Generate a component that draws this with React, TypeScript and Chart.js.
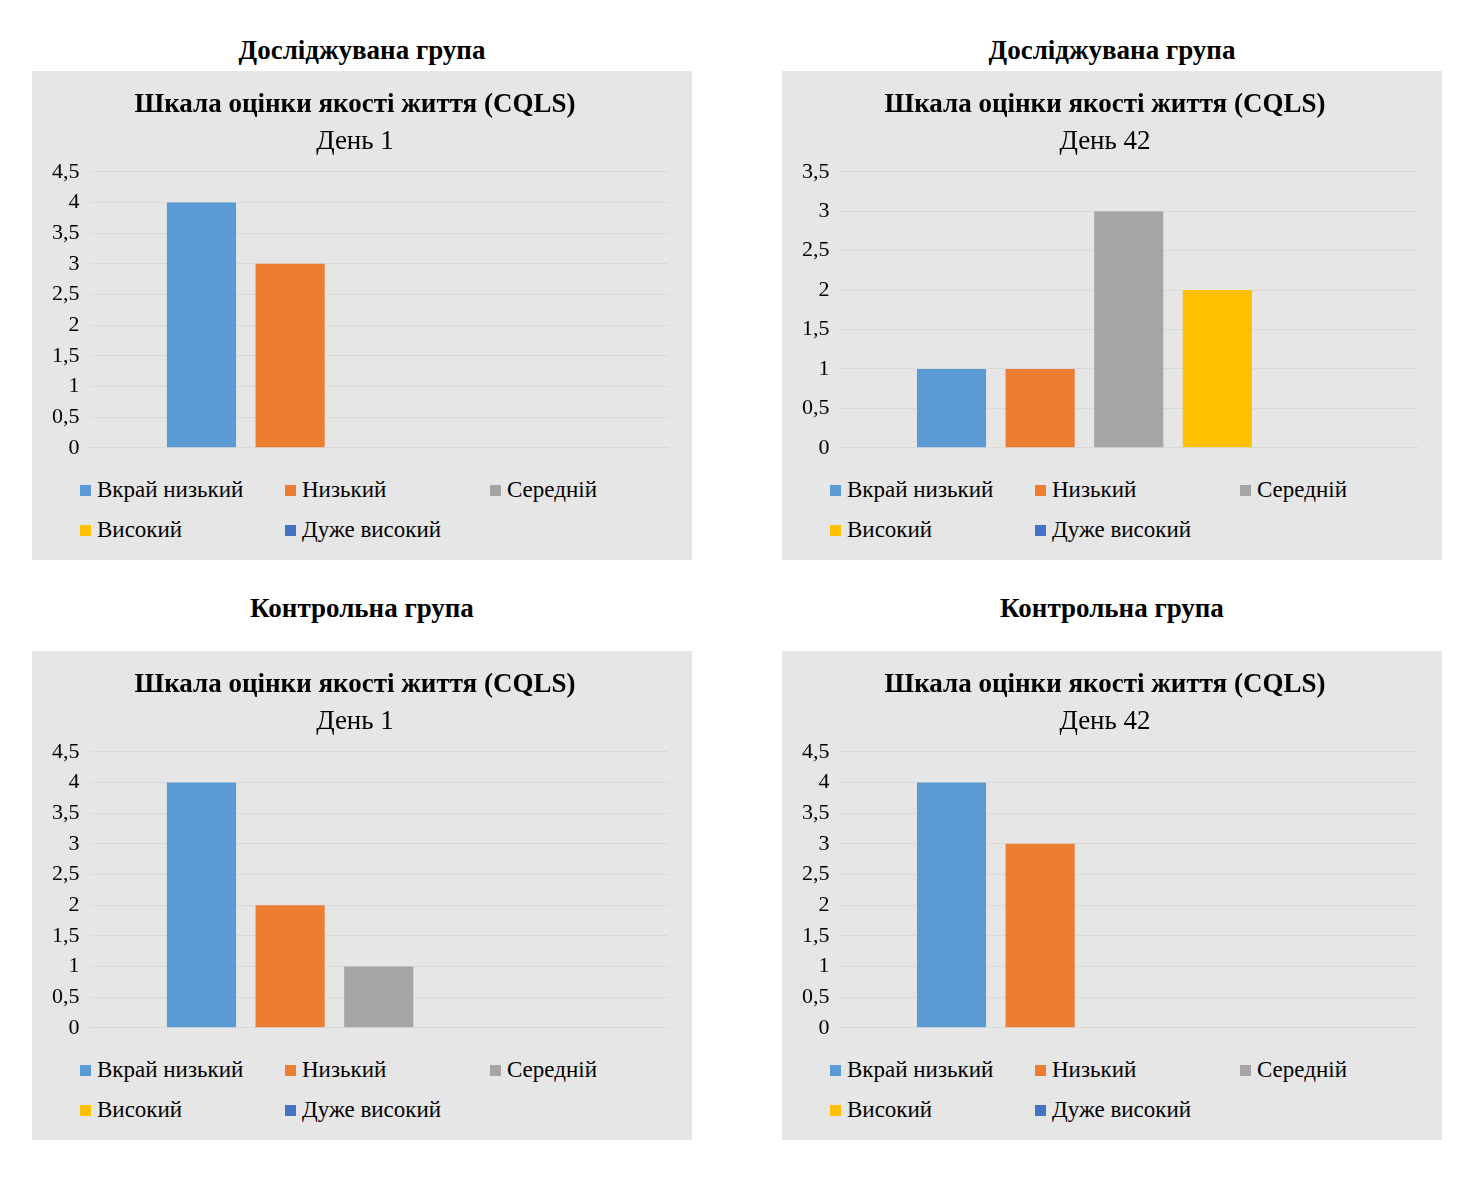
import React, { useEffect, useRef } from "react";
import { Chart, registerables } from "chart.js";
Chart.register(...registerables);

const seriesNames = ["Вкрай низький", "Низький", "Середній", "Високий", "Дуже високий"];
const seriesColors = ["#5b9bd5", "#ed7d31", "#a5a5a5", "#ffc000", "#4472c4"];
const studyDay1 = [4, 3, 0, 0, 0];
const studyDay42 = [1, 1, 3, 2, 0];
const controlDay1 = [4, 2, 1, 0, 0];
const controlDay42 = [4, 3, 0, 0, 0];
const FONT = "'Liberation Serif', 'Times New Roman', serif";

function Panel({ x, y, day, values, max, group, groupY }: any) {
  const ref = useRef<HTMLCanvasElement>(null);
  useEffect(() => {
    const c = new Chart(ref.current!, {
      type: "bar",
      data: {
        labels: [""],
        datasets: seriesNames.map((n, i) => ({
          label: n,
          data: [values[i]],
          backgroundColor: seriesColors[i],
          categoryPercentage: 0.766,
          barPercentage: 0.78,
        })),
      },
      options: {
        animation: false,
        responsive: false,
        layout: { padding: { left: 10, right: 24, top: 8, bottom: 0 } },
        plugins: {
          legend: { display: false },
          tooltip: { enabled: false },
          title: { display: true, text: "Шкала оцінки якості життя (CQLS)", color: "#000", font: { family: FONT, size: 27, weight: "bold" }, padding: { top: 0, bottom: 4 } },
          subtitle: { display: true, text: day, color: "#000", font: { family: FONT, size: 27 }, padding: { bottom: 14 } },
        },
        scales: {
          x: { ticks: { display: false }, grid: { display: false }, border: { color: "#d9d9d9" } },
          y: {
            min: 0, max,
            ticks: { stepSize: 0.5, color: "#000", font: { family: FONT, size: 22 }, callback: (v: any) => String(v).replace(".", ","), padding: 10 },
            grid: { color: "#d9d9d9", drawTicks: false },
            border: { display: false },
          },
        },
      },
    });
    return () => c.destroy();
  }, []);
  const cols = [0, 205, 410];
  return (
    <>
      <div style={{ position: "absolute", left: x, top: groupY, width: 660, textAlign: "center", fontFamily: FONT, fontWeight: "bold", fontSize: 27, lineHeight: "30px" }}>{group}</div>
      <div style={{ position: "absolute", left: x, top: y, width: 660, height: 489, background: "#e7e6e6" }}>
        <canvas ref={ref} width={660} height={390} style={{ position: "absolute", left: 0, top: 10 }} />
        {seriesNames.map((n, i) => (
          <div key={n} style={{ position: "absolute", left: 48 + cols[i % 3], top: i < 3 ? 405 : 445, fontFamily: FONT, fontSize: 23, lineHeight: "28px", display: "flex", alignItems: "center" }}>
            <span style={{ width: 11, height: 11, background: seriesColors[i], marginRight: 6, display: "inline-block" }} />
            {n}
          </div>
        ))}
      </div>
    </>
  );
}

export default function App() {
  return (
    <div style={{ position: "absolute", left: 0, top: 0, width: 1475, height: 1180, background: "#fff" }}>
      <Panel x={32} y={71} groupY={35} group="Досліджувана група" day="День 1" values={studyDay1} max={4.5} />
      <Panel x={782} y={71} groupY={35} group="Досліджувана група" day="День 42" values={studyDay42} max={3.5} />
      <Panel x={32} y={651} groupY={593} group="Контрольна група" day="День 1" values={controlDay1} max={4.5} />
      <Panel x={782} y={651} groupY={593} group="Контрольна група" day="День 42" values={controlDay42} max={4.5} />
    </div>
  );
}
